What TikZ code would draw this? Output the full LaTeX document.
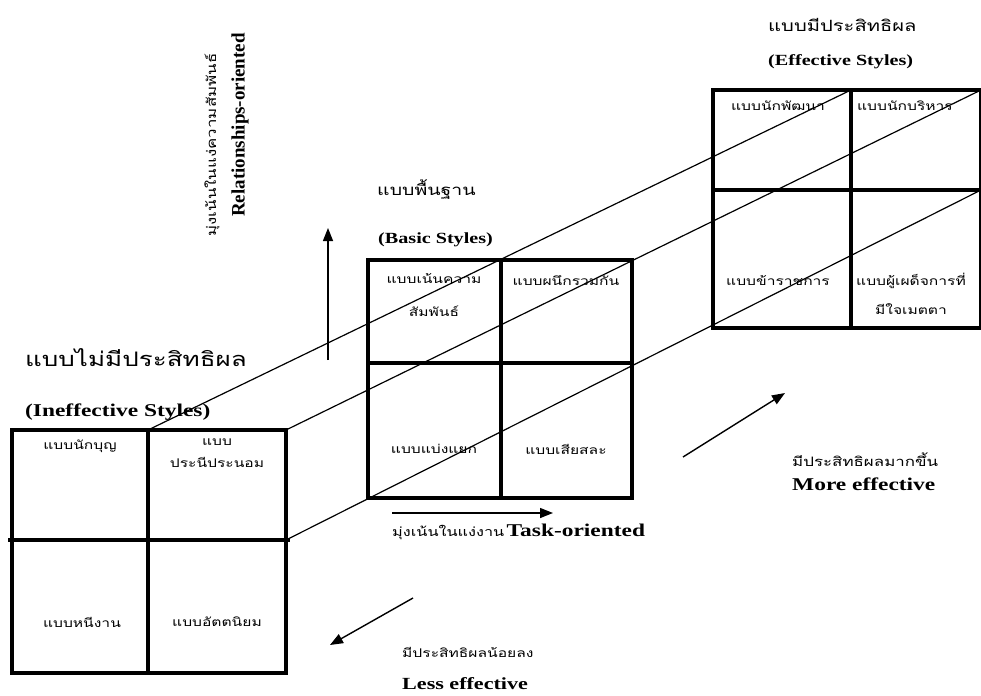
\documentclass[tikz,border=0pt]{standalone}
\usepackage{fontspec}
\setmainfont{Liberation Serif}
\newfontfamily\thaifont[Script=Thai,FakeStretch=1.3]{Loma}
\newfontfamily\engfont[FakeStretch=1.3]{Liberation Serif}
\usetikzlibrary{arrows.meta, positioning}
\tikzset{
  gridline/.style={line width=3.2pt},
  linkline/.style={line width=1.2pt},
  dirarrow/.style={line width=1.4pt, -{Triangle[length=13pt,width=10pt]}},
  cell/.style={font=\thaifont\fontsize{12}{22}\selectfont, align=center, inner sep=0pt},
  thaititle/.style={font=\thaifont\fontsize{15.5}{20}\selectfont, inner sep=0pt, anchor=west},
  engtitle/.style={font=\engfont\bfseries\fontsize{15.5}{18}\selectfont, inner sep=0pt, anchor=west},
}

\begin{document}
\begin{tikzpicture}[x=1pt, y=-1pt]
	\path[fill=white, use as bounding box] (0,0) rectangle (981,695);
	% ineffective styles
	\begin{scope}[shift={(12,430)}]
		\draw[gridline] (0,0) rectangle (274,243);
		\draw[gridline] (136,0) -- (136,243);
		\draw[gridline] (-4,110) -- (278,110);
		\coordinate (ineffTM) at (136,0);
		\coordinate (ineffTR) at (274,0);
		\coordinate (ineffMR) at (274,110);
		\node[cell] (missionary) at (68,16) {แบบนักบุญ};
		\node[cell, anchor=north] (compromiser) at (205,9) {แบบ\\ประนีประนอม};
		\node[cell] (deserter) at (70,192) {แบบหนีงาน};
		\node[cell] (autocrat) at (205,192) {แบบอัตตนิยม};
	\end{scope}
	\node[thaititle, font=\thaifont\fontsize{20}{24}\selectfont] (ineffThai) at (25,358) {แบบไม่มีประสิทธิผล};
	\node[engtitle, font=\engfont\bfseries\fontsize{18}{20}\selectfont] (ineffEng) at (25,412) {(Ineffective Styles)};
	% basic styles
	\begin{scope}[shift={(368,260)}]
		\draw[gridline] (0,0) rectangle (264,238);
		\draw[gridline] (133,0) -- (133,238);
		\draw[gridline] (0,103) -- (264,103);
		\node[cell, anchor=north, font=\thaifont\fontsize{12}{33}\selectfont] (related) at (66,13) {แบบเน้นความ\\สัมพันธ์};
		\node[cell] (integrated) at (198,21) {แบบผนึกรวมกัน};
		\node[cell] (separated) at (66,189) {แบบแบ่งแยก};
		\node[cell] (dedicated) at (198,189) {แบบเสียสละ};
	\end{scope}
	\node[thaititle, font=\thaifont\fontsize{15}{20}\selectfont] (basicThai) at (377,190) {แบบพื้นฐาน};
	\node[engtitle] (basicEng) at (378,240) {(Basic Styles)};
	% effective styles
	\begin{scope}[shift={(713,90)}]
		\draw[gridline] (0,0) rectangle (268,238);
		\draw[gridline] (138,0) -- (138,238);
		\draw[gridline] (0,100) -- (268,100);
		\coordinate (effTM) at (138,0);
		\coordinate (effTR) at (268,0);
		\coordinate (effMR) at (268,100);
		\node[cell] (developer) at (65,16) {แบบนักพัฒนา};
		\node[cell] (executive) at (192,16) {แบบนักบริหาร};
		\node[cell] (bureaucrat) at (65,191) {แบบข้าราชการ};
		\node[cell, anchor=north, font=\thaifont\fontsize{12}{29}\selectfont] (benevolent) at (198,183) {แบบผู้เผด็จการที่\\มีใจเมตตา};
	\end{scope}
	\node[thaititle] (effThai) at (768,25) {แบบมีประสิทธิผล};
	\node[engtitle] (effEng) at (768,62) {(Effective Styles)};
	% links between the three grids
	\draw[linkline] (ineffTM) -- (effTM);
	\draw[linkline] (ineffTR) -- (effTR);
	\draw[linkline] (ineffMR) -- (effMR);
	% axes
	\coordinate (relFrom) at (328,360);
	\coordinate (relTo) at (328,228);
	\draw[dirarrow] (relFrom) -- (relTo);
	\node[rotate=90, font=\thaifont\fontsize{13}{15}\selectfont, inner sep=0pt] (relThai) at (212,145) {มุ่งเน้นในแง่ความสัมพันธ์};
	\node[rotate=90, font=\bfseries\fontsize{19}{21}\selectfont, inner sep=0pt] (relEng) at (240,125) {Relationships-oriented};
	\coordinate (taskFrom) at (392,513);
	\coordinate (taskTo) at (553,513);
	\draw[dirarrow] (taskFrom) -- (taskTo);
	\node[anchor=west, inner sep=0pt] (taskLabel) at (392,532)
	{{\thaifont\fontsize{12.5}{15}\selectfont มุ่งเน้นในแง่งาน} {\engfont\bfseries\fontsize{18}{20}\selectfont Task-oriented}};
	\coordinate (moreFrom) at (683,457);
	\coordinate (moreTo) at (785,393);
	\draw[dirarrow] (moreFrom) -- (moreTo);
	\node[anchor=west, inner sep=0pt, font=\thaifont\fontsize{13}{15}\selectfont] (moreThai) at (792,460) {มีประสิทธิผลมากขึ้น};
	\node[anchor=west, inner sep=0pt, font=\engfont\bfseries\fontsize{18}{20}\selectfont] (moreEng) at (792,484) {More effective};
	\coordinate (lessFrom) at (413,598);
	\coordinate (lessTo) at (330,645);
	\draw[dirarrow] (lessFrom) -- (lessTo);
	\node[anchor=west, inner sep=0pt, font=\thaifont\fontsize{12}{15}\selectfont] (lessThai) at (402,652) {มีประสิทธิผลน้อยลง};
	\node[anchor=west, inner sep=0pt, font=\engfont\bfseries\fontsize{17}{20}\selectfont] (lessEng) at (402,684) {Less effective};
\end{tikzpicture}
\end{document}
